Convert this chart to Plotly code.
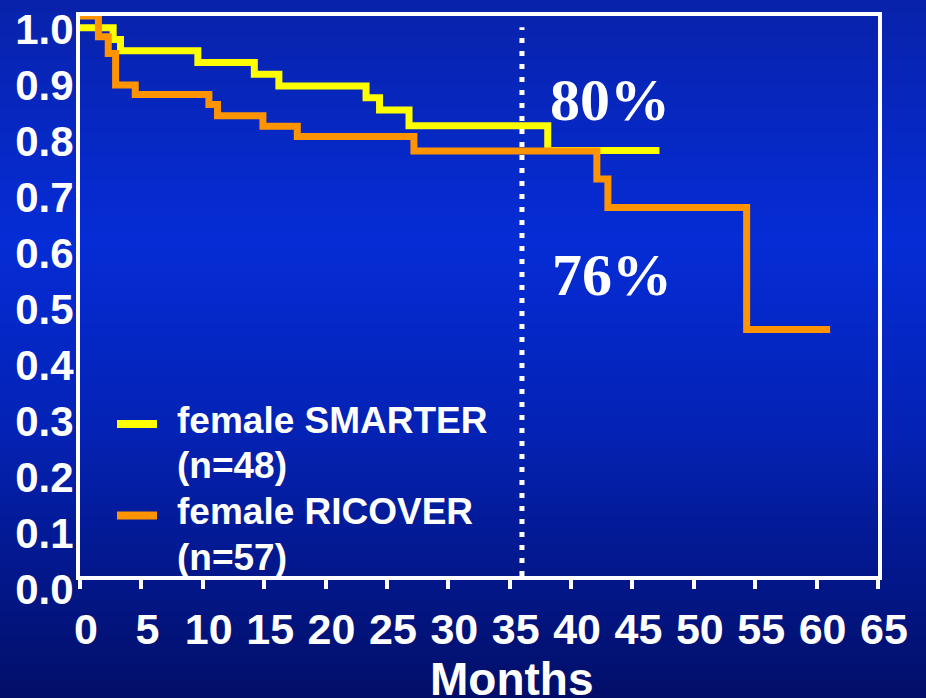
import plotly.graph_objects as go

# Kaplan-Meier step curves (months, survival fraction)
smarter_months = [0, 2.7, 3.3, 9.6, 14.2, 16.2, 23.3, 24.4, 26.8, 38.1, 47.2]
smarter_surv = [0.979, 0.958, 0.938, 0.917, 0.896, 0.875, 0.854, 0.832, 0.804, 0.760, 0.760]

ricover_months = [0, 1.5, 2.3, 2.9, 4.5, 10.5, 11.2, 14.9, 17.7, 27.2, 42.1, 43.0, 54.3, 61.1]
ricover_surv = [1.0, 0.963, 0.933, 0.877, 0.860, 0.842, 0.822, 0.803, 0.785, 0.759, 0.709, 0.658, 0.440, 0.440]

series_names = ["female SMARTER", "female RICOVER"]
series_counts = ["(n=48)", "(n=57)"]
series_colors = ["#FFFF00", "#FF9400"]

x_ticks = list(range(0, 66, 5))
y_ticks = [round(i / 10, 1) for i in range(11)]
y_tick_labels = [f"{v:.1f}" for v in y_ticks]

landmark_month = 36
landmark_labels = ["80%", "76%"]
landmark_label_pos = [(43.2, 0.85), (43.3, 0.537)]

W, H = 926, 698
ML, MR, MT, MB = 80, 48, 16, 122
PW, PH = W - ML - MR, H - MT - MB

SANS = "Liberation Sans, Arial, sans-serif"
SERIF = "Liberation Serif, Times New Roman, serif"


def py(yp):
    return (H - MB - yp) / PH


def px(xp):
    return (xp - ML) / PW


fig = go.Figure()
for name, cnt, col, xs, ys in zip(series_names, series_counts, series_colors,
                                   [smarter_months, ricover_months],
                                   [smarter_surv, ricover_surv]):
    fig.add_trace(go.Scatter(
        x=xs, y=ys, name=f"{name} {cnt}", mode="lines", showlegend=False,
        line=dict(color=col, width=7, shape="hv"),
    ))

# vertical blue gradient behind the whole figure
stops = [(0, (8, 34, 170)), (240, (5, 44, 214)), (430, (4, 34, 180)), (698, (2, 14, 104))]


def grad(yp):
    for (y0, c0), (y1, c1) in zip(stops[:-1], stops[1:]):
        if y0 <= yp <= y1:
            t = (yp - y0) / (y1 - y0)
            return tuple(round(a + (b - a) * t) for a, b in zip(c0, c1))
    return stops[-1][1]


shapes = []
step = 6
for yp in range(0, H, step):
    r, g, b = grad(yp + step / 2)
    shapes.append(dict(
        type="rect", xref="paper", yref="paper", layer="below",
        x0=px(-2), x1=px(W + 2), y0=py(yp + step + 1), y1=py(yp),
        fillcolor=f"rgb({r},{g},{b})", line=dict(width=0),
    ))

# dotted landmark line at 36 months
shapes.append(dict(
    type="line", xref="x", yref="paper", layer="above",
    x0=landmark_month, x1=landmark_month, y0=0, y1=0.98,
    line=dict(color="white", width=5, dash="5px,8px"),
))

annotations = []
for txt, (ax, ay) in zip(landmark_labels, landmark_label_pos):
    annotations.append(dict(
        x=ax, y=ay, xref="x", yref="y", text=txt, showarrow=False,
        font=dict(family=SERIF, size=60, color="white", weight="bold"),
    ))

# legend: coloured key line plus two text rows per series
legend_font = dict(family=SANS, size=37, color="white", weight="bold")
for i, (name, cnt, col) in enumerate(zip(series_names, series_counts, series_colors)):
    top = 420 + i * 91.5
    shapes.append(dict(
        type="line", xref="paper", yref="paper", layer="above",
        x0=px(117), x1=px(157), y0=py(top + 4), y1=py(top + 4),
        line=dict(color=col, width=8),
    ))
    for j, line_txt in enumerate([name, cnt]):
        annotations.append(dict(
            x=px(175), y=py(top + j * 45.5), xref="paper", yref="paper",
            xanchor="left", yanchor="middle", text=line_txt, showarrow=False,
            font=legend_font,
        ))

annotations.append(dict(
    x=px(512), y=py(651), xref="paper", yref="paper", text="Months",
    xanchor="center", yanchor="top",
    showarrow=False, font=dict(family=SANS, size=46, color="white", weight="bold"),
))

fig.update_layout(
    width=W, height=H,
    margin=dict(l=ML, r=MR, t=MT, b=MB, pad=0, autoexpand=False),
    paper_bgcolor="#0420a8",
    plot_bgcolor="rgba(0,0,0,0)",
    shapes=shapes,
    annotations=annotations,
    showlegend=False,
    xaxis=dict(
        range=[0, 65], tickvals=x_ticks, ticktext=[str(v) for v in x_ticks],
        showgrid=False, zeroline=False, automargin=False,
        showline=True, mirror=True, linecolor="white", linewidth=4,
        ticks="outside", ticklen=9, tickwidth=4, tickcolor="white",
        tickfont=dict(family=SANS, size=43, color="white", weight="bold"),
        ticklabelshift=6, ticklabelstandoff=3,
    ),
    yaxis=dict(
        range=[0, 1], tickvals=y_ticks, ticktext=y_tick_labels,
        showgrid=False, zeroline=False, automargin=False,
        showline=True, mirror=True, linecolor="white", linewidth=4,
        ticks="",
        tickfont=dict(family=SANS, size=42, color="white", weight="bold"),
        ticklabelshift=13, ticklabelstandoff=-6,
    ),
)

fig.write_html("out.html")
